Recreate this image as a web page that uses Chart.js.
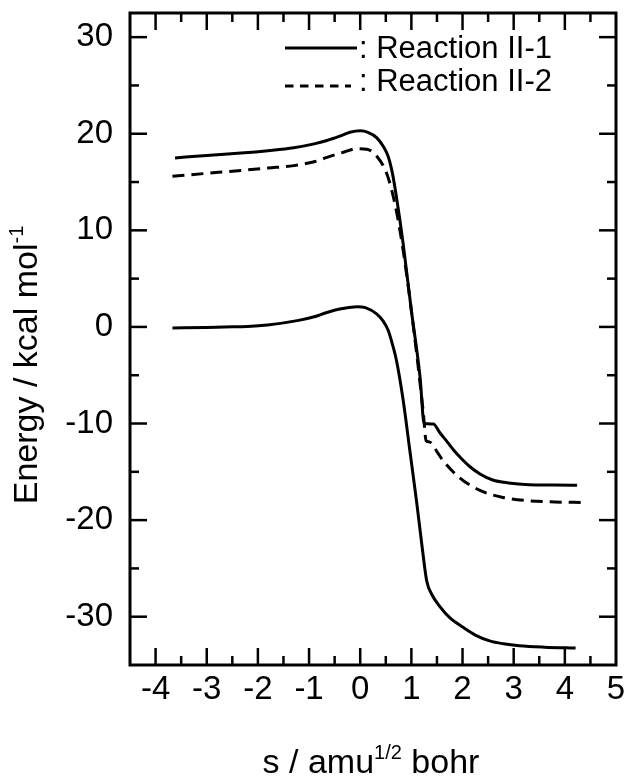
<!DOCTYPE html>
<html><head><meta charset="utf-8">
<script src="https://cdn.jsdelivr.net/npm/chart.js@4/dist/chart.umd.min.js"></script>
<style>html,body{margin:0;padding:0;background:#fff;}#wrap{width:629px;height:777px;position:relative;}</style>
</head><body><div id="wrap"><canvas id="c" width="629" height="777"></canvas></div>
<script>
// ---- data ----
const xTicks = [-4,-3,-2,-1,0,1,2,3,4,5];
const yTicks = [-30,-20,-10,0,10,20,30];
const legendLabels = [': Reaction II-1', ': Reaction II-2'];

const upperX = [-3.62,-3,-2.33,-1.8,-1.3,-0.9,-0.65,-0.4,-0.2,0,0.15,0.32,0.45,0.55,0.63,0.71,0.84,1.0,1.17,1.25,1.43,1.55,1.7,1.85,2.0,2.14,2.35,2.59,2.9,3.3,3.8,4.24];
const upperY = [17.5,17.75,18.0,18.25,18.55,18.95,19.3,19.75,20.15,20.3,20.15,19.6,18.7,17.6,15.9,13.4,8.6,1.7,-5.2,-10.0,-10.05,-10.9,-11.9,-12.9,-13.75,-14.45,-15.25,-15.85,-16.15,-16.33,-16.37,-16.4];

const dashX = [-3.67,-3.0,-2.33,-1.8,-1.3,-0.9,-0.65,-0.35,-0.06,0.13,0.32,0.52,0.68,0.84,1.04,1.23,1.29,1.35,1.5,1.62,1.94,2.33,2.79,3.3,3.8,4.31];
const dashY = [15.6,15.9,16.2,16.45,16.7,17.1,17.55,18.05,18.45,18.4,17.7,15.85,12.7,7.9,0.0,-8.7,-11.8,-11.9,-12.9,-13.85,-15.6,-16.9,-17.65,-18.0,-18.12,-18.17];

const lowerX = [-3.67,-3.0,-2.66,-2.2,-1.81,-1.23,-0.9,-0.65,-0.35,-0.06,0.1,0.32,0.45,0.55,0.63,0.71,0.84,0.97,1.1,1.22,1.3,1.4,1.55,1.75,2.01,2.25,2.53,2.8,3.11,3.6,4.21];
const lowerY = [-0.1,-0.05,0,0.05,0.2,0.65,1.05,1.5,1.9,2.1,2.0,1.35,0.6,-0.4,-1.8,-3.5,-7.6,-12.8,-18,-23.2,-26.3,-27.7,-28.9,-30.1,-31.1,-31.9,-32.5,-32.8,-33.0,-33.15,-33.25];

const pts = (xs, ys) => xs.map((x, i) => ({x, y: ys[i]}));
const FONT = '"Liberation Sans", Arial, Helvetica, sans-serif';

const framePlugin = {
  id: 'frame',
  afterDraw(chart) {
    const ctx = chart.ctx, a = chart.chartArea, xs = chart.scales.x, ys = chart.scales.y;
    ctx.save();
    ctx.strokeStyle = '#000';
    ctx.lineCap = 'butt';
    ctx.lineWidth = 2.5;
    const tick = (x1,y1,x2,y2) => { ctx.beginPath(); ctx.moveTo(x1,y1); ctx.lineTo(x2,y2); ctx.stroke(); };
    for (let v = xs.min; v <= xs.max + 1e-9; v += 0.5) {
      const p = xs.getPixelForValue(v);
      const major = Math.abs(v - Math.round(v)) < 1e-6;
      const L = major ? 17 : 9;
      if (p <= a.left + 1 || p >= a.right - 1) continue;
      tick(p, a.bottom, p, a.bottom - L);
      tick(p, a.top, p, a.top + L);
    }
    for (let v = -35; v <= ys.max + 1e-9; v += 5) {
      const p = ys.getPixelForValue(v);
      const major = Math.abs(v / 10 - Math.round(v / 10)) < 1e-6;
      const L = major ? 17 : 9;
      if (p >= a.bottom - 1 || p <= a.top + 1) continue;
      tick(a.left, p, a.left + L, p);
      tick(a.right, p, a.right - L, p);
    }
    ctx.lineWidth = 3;
    ctx.strokeRect(a.left, a.top, a.right - a.left, a.bottom - a.top);

    // legend
    ctx.fillStyle = '#000';
    ctx.font = '31px ' + FONT;
    ctx.textBaseline = 'alphabetic';
    ctx.textAlign = 'left';
    ctx.lineWidth = 2.8;
    ctx.setLineDash([]);
    tick(285, 48, 357, 48);
    ctx.fillText(legendLabels[0], 359, 58);
    ctx.setLineDash([8.5, 6.5]);
    ctx.beginPath(); ctx.moveTo(285, 86); ctx.lineTo(351, 86); ctx.stroke();
    ctx.setLineDash([]);
    ctx.fillText(legendLabels[1], 359, 91);

    const drawSup = (parts, cx, by) => {
      let total = 0;
      parts.forEach(p => { ctx.font = p.size + 'px ' + FONT; total += ctx.measureText(p.t).width; });
      let x = cx - total / 2;
      parts.forEach(p => { ctx.font = p.size + 'px ' + FONT; ctx.fillText(p.t, x, by + (p.dy || 0)); x += ctx.measureText(p.t).width; });
    };
    drawSup([{t:'s / amu', size:34},{t:'1/2', size:20, dy:-14},{t:' bohr', size:34}], 371, 773);
    ctx.save();
    ctx.translate(37, 365);
    ctx.rotate(-Math.PI / 2);
    drawSup([{t:'Energy / kcal mol', size:34},{t:'-1', size:20, dy:-14}], 0, 0);
    ctx.restore();
    ctx.restore();
  }
};

new Chart(document.getElementById('c'), {
  type: 'line',
  data: {
    datasets: [
      {label: 'Reaction II-1', data: pts(upperX, upperY), borderColor: '#000', borderWidth: 3, pointRadius: 0, cubicInterpolationMode: 'monotone', fill: false},
      {label: 'Reaction II-2', data: pts(dashX, dashY), borderColor: '#000', borderWidth: 3, borderDash: [12, 7], pointRadius: 0, cubicInterpolationMode: 'monotone', fill: false},
      {label: 'Reaction II-1 (lower)', data: pts(lowerX, lowerY), borderColor: '#000', borderWidth: 3, pointRadius: 0, cubicInterpolationMode: 'monotone', fill: false}
    ]
  },
  options: {
    responsive: false,
    animation: false,
    layout: {padding: {top: 13, right: 13, left: 0, bottom: 0}},
    plugins: {legend: {display: false}, tooltip: {enabled: false}},
    scales: {
      x: {
        type: 'linear', min: -4.5, max: 5,
        afterBuildTicks: s => { s.ticks = xTicks.map(v => ({value: v})); },
        afterFit: s => { s.height = 112; s.paddingLeft = 0; s.paddingRight = 0; },
        grid: {display: false, drawTicks: false},
        border: {display: false},
        ticks: {color: '#000', font: {family: FONT, size: 33}, padding: 5, maxRotation: 0, autoSkip: false}
      },
      y: {
        type: 'linear', min: -35, max: 32.5,
        afterBuildTicks: s => { s.ticks = yTicks.map(v => ({value: v})); },
        afterFit: s => { s.width = 130; s.paddingTop = 0; s.paddingBottom = 0; },
        grid: {display: false, drawTicks: false},
        border: {display: false},
        ticks: {color: '#000', font: {family: FONT, size: 33}, padding: 17, autoSkip: false}
      }
    }
  },
  plugins: [framePlugin]
});
</script></body></html>
